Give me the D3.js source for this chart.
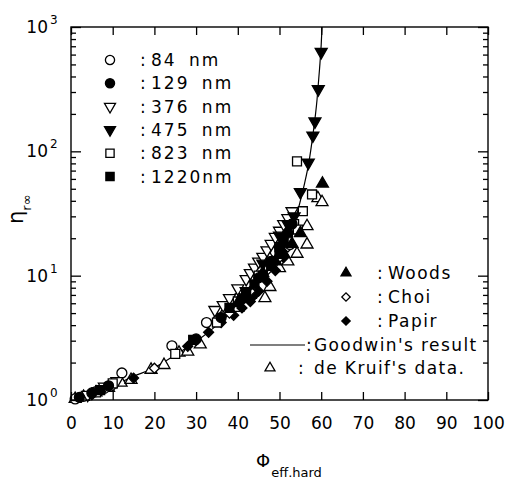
<!DOCTYPE html>
<html>
<head>
<meta charset="utf-8">
<script src="https://cdn.jsdelivr.net/npm/d3@7"></script>
<style>
body { margin: 0; background: #fff; }
text { font-family: "DejaVu Sans", sans-serif; fill: #000; }
</style>
</head>
<body>
<div id="chart"></div>
<script>
// values: [phi_eff,hard (%), eta_r_inf]
var goodwinPhi = [0, 5, 10, 15, 20, 25, 30, 35, 40, 44, 47, 50, 52, 54, 55, 56, 57, 58, 59, 59.6, 60, 60.2];
var goodwinEta = [1, 1.12, 1.3, 1.55, 1.82, 2.3, 2.95, 4.0, 5.8, 8.5, 11.5, 16, 21, 30, 40, 55, 80, 135, 260, 460, 720, 1000];

var d84 = [[1, 1.02], [3, 1.07], [6, 1.17], [8, 1.24], [12.2, 1.65], [24.2, 2.73], [32.5, 4.2], [40, 6.6], [44, 9.2], [47, 12], [49, 15.5], [50.5, 19], [52.5, 17.8]];
var d129 = [[2, 1.05], [5, 1.14], [9, 1.3], [30, 3.1], [36, 4.6], [41, 6.5], [45, 9.6], [48, 13], [50, 17], [52, 22], [53, 26]];
var d376 = [[4, 1.1], [8, 1.28], [11, 1.42], [34.5, 5.3], [36.5, 5.8], [38, 6.6], [40, 7.9], [42, 9.4], [43, 10.5], [44, 11.6], [45, 13], [46, 14.2], [47, 16], [48, 18], [49, 20.5], [50, 23], [51, 26], [52, 29], [53, 33]];
var d475 = [[42, 7.5], [46, 12.5], [50, 21], [52, 26], [53.5, 30], [55, 47], [56.9, 81], [58, 134], [58.5, 174], [59.3, 316], [60, 630]];
var d823 = [[6, 1.15], [10, 1.36], [25, 2.35], [35, 4.2], [40, 6.2], [45, 10], [48, 13], [50, 17], [52, 20], [53.5, 26], [54.4, 23.5], [55.6, 33], [57.8, 45], [54.2, 83]];
var d1220 = [[7, 1.2], [29.3, 3.05], [38, 5.5], [42, 7], [44, 8.5], [46, 10], [48, 12], [50, 15], [51, 19]];
var woods = [[40, 6], [46, 10.5], [49, 13], [51, 15], [53, 18], [55, 22], [60.3, 55]];
var choi = [[10, 1.3], [20, 1.8], [30, 3], [38, 5], [43, 7.5], [47, 11], [50, 14], [52, 17]];
var papir = [[5, 1.1], [15, 1.5], [28, 2.7], [33, 3.5], [36, 4.2], [39, 4.8], [41, 5.5], [43, 6.2], [44, 7], [45, 7.5], [47, 9], [49, 11], [51, 14]];
var kruif = [[1, 1.02], [3, 1.06], [6, 1.15], [9, 1.25], [12, 1.38], [14.4, 1.45], [19.2, 1.75], [22.3, 1.91], [25.9, 2.4], [28, 2.45], [31, 2.8], [35, 4.5], [37, 5.2], [40, 5.5], [43, 7], [46.5, 6.6], [47.7, 8.1], [50, 11.5], [52, 13], [54.2, 15], [56.6, 17.8], [56.6, 25], [59.2, 42], [60.2, 39]];

var xTicks = [0, 10, 20, 30, 40, 50, 60, 70, 80, 90, 100];
var yTicks = [1, 10, 100, 1000];
var yTickExp = ["0", "1", "2", "3"];

var leftLabels = ["84 nm", "129 nm", "376 nm", "475 nm", "823 nm", "1220nm"];
var rightLabels = ["Woods", "Choi", "Papir", "Goodwin's result", "de Kruif's data."];

function init() {
    var w = 510;
    var h = 480;
    var left = 71, right = 488, top = 27, bottom = 400;

    var svg = d3.select("#chart")
                .append("svg")
                .attr("width", w)
                .attr("height", h);

    var xScale = d3.scaleLinear().domain([0, 100]).range([left, right]);
    var yScale = d3.scaleLog().domain([1, 1000]).range([bottom, top]);

    // marker shapes
    function marker(shape, size) {
        if (shape == "circle") return d3.symbol().type(d3.symbolCircle).size(size)();
        if (shape == "square" || shape == "diamond") return d3.symbol().type(d3.symbolSquare).size(size)();
        return d3.symbol().type(d3.symbolTriangle).size(size)();
    }
    function rot(shape) {
        if (shape == "down") return " rotate(180)";
        if (shape == "diamond") return " rotate(45)";
        return "";
    }
    var sizes = { circle: 78, square: 80, up: 62, down: 62, diamond: 50 };

    var series = [
        { data: kruif, shape: "up", fill: "#fff" },
        { data: papir, shape: "diamond", fill: "#000" },
        { data: choi, shape: "diamond", fill: "#fff" },
        { data: d84, shape: "circle", fill: "#fff" },
        { data: d376, shape: "down", fill: "#fff" },
        { data: d823, shape: "square", fill: "#fff" },
        { data: d129, shape: "circle", fill: "#000" },
        { data: d1220, shape: "square", fill: "#000" },
        { data: woods, shape: "up", fill: "#000" },
        { data: d475, shape: "down", fill: "#000" }
    ];

    // Goodwin's curve
    var curve = goodwinPhi.map(function(p, i) { return [p, goodwinEta[i]]; });
    var line = d3.line()
        .x(function(d) { return xScale(d[0]); })
        .y(function(d) { return yScale(d[1]); })
        .curve(d3.curveMonotoneX);

    svg.append("path")
        .datum(curve)
        .attr("d", line)
        .attr("fill", "none")
        .attr("stroke", "#000")
        .attr("stroke-width", 1.2);

    series.forEach(function(s) {
        svg.append("g").selectAll("path")
            .data(s.data)
            .enter().append("path")
            .attr("d", marker(s.shape, sizes[s.shape]))
            .attr("transform", function(d) {
                return "translate(" + xScale(d[0]) + "," + yScale(d[1]) + ")" + rot(s.shape);
            })
            .attr("fill", s.fill)
            .attr("stroke", "#000")
            .attr("stroke-width", 1.3);
    });

    // frame
    svg.append("rect")
        .attr("x", left).attr("y", top)
        .attr("width", right - left).attr("height", bottom - top)
        .attr("fill", "none").attr("stroke", "#000").attr("stroke-width", 1.4);

    var minor = yScale.ticks().filter(function(t) { return yTicks.indexOf(t) < 0; });

    function clean(g) { g.select(".domain").remove(); g.selectAll("line").attr("stroke-width", 1.3); }

    svg.append("g")
        .attr("transform", "translate(0," + bottom + ")")
        .call(d3.axisBottom(xScale).tickValues(xTicks).tickSize(-8).tickPadding(17))
        .call(clean)
        .selectAll("text")
        .style("font-family", "DejaVu Sans")
        .style("font-size", "17px");

    svg.append("g")
        .attr("transform", "translate(0," + top + ")")
        .call(d3.axisTop(xScale).tickValues(xTicks).tickSize(-8).tickFormat(""))
        .call(clean);

    svg.append("g")
        .attr("transform", "translate(" + left + ",0)")
        .call(d3.axisLeft(yScale).tickValues(yTicks).tickSize(-10).tickFormat(""))
        .call(clean);
    svg.append("g")
        .attr("transform", "translate(" + left + ",0)")
        .call(d3.axisLeft(yScale).tickValues(minor).tickSize(-5).tickFormat(""))
        .call(clean);
    svg.append("g")
        .attr("transform", "translate(" + right + ",0)")
        .call(d3.axisRight(yScale).tickValues(yTicks).tickSize(-10).tickFormat(""))
        .call(clean);
    svg.append("g")
        .attr("transform", "translate(" + right + ",0)")
        .call(d3.axisRight(yScale).tickValues(minor).tickSize(-5).tickFormat(""))
        .call(clean);

    // y tick labels 10^n
    svg.append("g").selectAll("text")
        .data(yTicks)
        .enter().append("text")
        .attr("x", 48)
        .attr("y", function(d) { return yScale(d) + 6; })
        .attr("text-anchor", "end")
        .style("font-size", "17px")
        .text("10");
    svg.append("g").selectAll("text")
        .data(yTicks)
        .enter().append("text")
        .attr("x", 50)
        .attr("y", function(d) { return yScale(d) - 3; })
        .style("font-size", "12px")
        .text(function(d, i) { return yTickExp[i]; });

    // axis titles
    var xt = svg.append("text").attr("x", 256).attr("y", 467).style("font-size", "18px");
    xt.append("tspan").text("\u03a6");
    xt.append("tspan").attr("dy", 10).attr("dx", 1).style("font-size", "13px").text("eff.hard");

    var yt = svg.append("text")
        .attr("transform", "translate(23,224) rotate(-90)")
        .style("font-size", "21px");
    yt.append("tspan").text("\u03b7");
    yt.append("tspan").attr("dy", 8).style("font-size", "13px").text("r\u221e");

    // left legend
    var leftShapes = [["circle", "#fff"], ["circle", "#000"], ["down", "#fff"], ["down", "#000"], ["square", "#fff"], ["square", "#000"]];
    var lg = svg.append("g");
    leftLabels.forEach(function(lab, i) {
        var y = 60 + i * 23.3;
        lg.append("path")
            .attr("d", marker(leftShapes[i][0], sizes[leftShapes[i][0]] * 0.85))
            .attr("transform", "translate(110," + y + ")" + rot(leftShapes[i][0]))
            .attr("fill", leftShapes[i][1]).attr("stroke", "#000").attr("stroke-width", 1.3);
        lg.append("text").attr("x", 140).attr("y", y + 6).style("font-size", "17px").text(":");
        lg.append("text").attr("x", 151).attr("y", y + 6).style("font-size", "17px")
            .style("letter-spacing", "2px").style("word-spacing", "5px").text(lab);
    });

    // right legend
    var rg = svg.append("g");
    var rightShapes = [["up", "#000"], ["diamond", "#fff"], ["diamond", "#000"]];
    rightShapes.forEach(function(s, i) {
        var y = 273 + i * 24;
        rg.append("path")
            .attr("d", marker(s[0], sizes[s[0]] * 0.7))
            .attr("transform", "translate(346," + y + ")" + rot(s[0]))
            .attr("fill", s[1]).attr("stroke", "#000").attr("stroke-width", 1.3);
        rg.append("text").attr("x", 377).attr("y", y + 6).style("font-size", "17px").text(":");
        rg.append("text").attr("x", 388).attr("y", y + 6).style("font-size", "17px")
            .style("letter-spacing", "1.5px").text(rightLabels[i]);
    });
    rg.append("line")
        .attr("x1", 250).attr("x2", 305).attr("y1", 345).attr("y2", 345)
        .attr("stroke", "#000").attr("stroke-width", 1.2);
    rg.append("text").attr("x", 306).attr("y", 351).style("font-size", "17px").text(":");
    rg.append("text").attr("x", 314).attr("y", 351).style("font-size", "17px")
        .style("letter-spacing", "1.4px").text(rightLabels[3]);
    rg.append("path")
        .attr("d", marker("up", sizes.up * 0.7))
        .attr("transform", "translate(270,368)")
        .attr("fill", "#fff").attr("stroke", "#000").attr("stroke-width", 1.3);
    rg.append("text").attr("x", 298).attr("y", 374).style("font-size", "17px").text(":");
    rg.append("text").attr("x", 314).attr("y", 374).style("font-size", "17px")
        .style("letter-spacing", "1.4px").text(rightLabels[4]);
}

window.onload = init;
</script>
</body>
</html>
